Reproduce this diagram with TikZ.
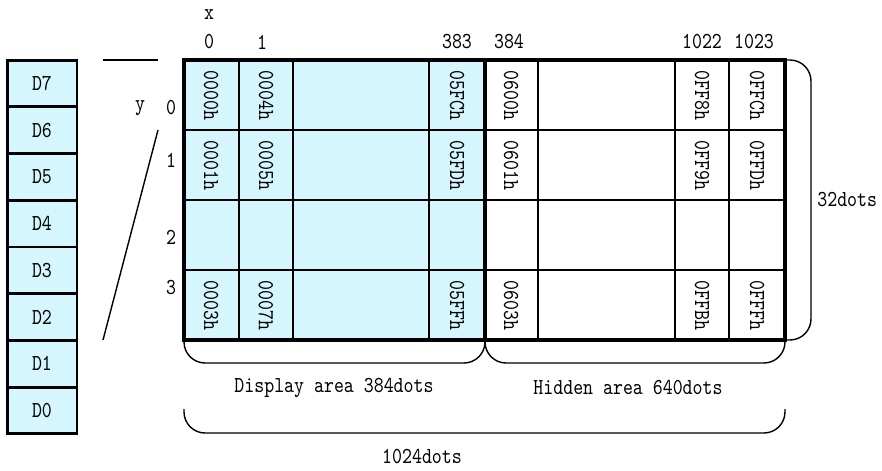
\documentclass[tikz,border=0pt]{standalone}
\usepackage{fontspec}
\newfontfamily\memfont[FakeStretch=0.83]{lmmono10-regular.otf}
\usetikzlibrary{positioning}
\definecolor{memcyan}{RGB}{212,246,252}

\begin{document}
\begin{tikzpicture}[x=0.02cm, y=-0.02cm,
    txt/.style={font=\memfont\fontsize{13}{15}\selectfont, inner sep=0pt},
    bit/.style={txt, draw, line width=1.7pt, fill=memcyan, minimum width=1.4cm,
        minimum height=0.935cm, outer sep=0pt},
    addr/.style={txt, rotate=-90, anchor=west},
    gridline/.style={line width=0.75pt},
    frame/.style={line width=2pt},
    brace/.style={line width=0.8pt, rounded corners=12pt}
]
\useasboundingbox (0,0) rectangle (882,470);

% data bits
\node[bit] (d7) at (42,83.4) {D7};
\node[bit, below=0pt of d7] (d6) {D6};
\node[bit, below=0pt of d6] (d5) {D5};
\node[bit, below=0pt of d5] (d4) {D4};
\node[bit, below=0pt of d4] (d3) {D3};
\node[bit, below=0pt of d3] (d2) {D2};
\node[bit, below=0pt of d2] (d1) {D1};
\node[bit, below=0pt of d1] (d0) {D0};

% memory grid corners
\coordinate (gtl) at (184,60);
\coordinate (gtm) at (485,60);
\coordinate (gtr) at (785,60);
\coordinate (gbl) at (184,340);
\coordinate (gbm) at (485,340);
\coordinate (gbr) at (785,340);

\fill[memcyan] (gtl) rectangle (gbm);
\foreach \cx in {239,293,429,538,675,729}
    \draw[gridline] (\cx,60) -- (\cx,340);
\foreach \ry in {130,200,270}
    \draw[gridline] (184,\ry) -- (785,\ry);
\draw[frame] (gtl) rectangle (gbm);
\draw[frame] (gtm) rectangle (gbr);

% zoom lines
\coordinate (za) at (103,60);
\coordinate (zb) at (158,60);
\coordinate (zc) at (158,130);
\coordinate (zd) at (103,340);
\draw[line width=0.8pt] (za) -- (zb);
\draw[line width=0.8pt] (zc) -- (zd);

% axis labels
\node[txt] (xlab) at (209,15) {x};
\node[txt] (x0) at (209,42) {0};
\node[txt] (x1) at (262,42) {1};
\node[txt] (x383) at (457,42) {383};
\node[txt] (x384) at (509,42) {384};
\node[txt] (x1022) at (702,42) {1022};
\node[txt] (x1023) at (754,42) {1023};
\node[txt] (ylab) at (140,108) {y};
\node[txt] (y0) at (171,108) {0};
\node[txt] (y1) at (171,160) {1};
\node[txt] (y2) at (171,237) {2};
\node[txt] (y3) at (171,288) {3};

% addresses
\node[addr] (a00) at (211,70) {0000h};
\node[addr] (a01) at (211,140) {0001h};
\node[addr] (a03) at (211,280) {0003h};
\node[addr] (a10) at (266,70) {0004h};
\node[addr] (a11) at (266,140) {0005h};
\node[addr] (a13) at (266,280) {0007h};
\node[addr] (a30) at (457,70) {05FCh};
\node[addr] (a31) at (457,140) {05FDh};
\node[addr] (a33) at (457,280) {05FFh};
\node[addr] (a40) at (511,70) {0600h};
\node[addr] (a41) at (511,140) {0601h};
\node[addr] (a43) at (511,280) {0603h};
\node[addr] (a60) at (702,70) {0FF8h};
\node[addr] (a61) at (702,140) {0FF9h};
\node[addr] (a63) at (702,280) {0FFBh};
\node[addr] (a70) at (757,70) {0FFCh};
\node[addr] (a71) at (757,140) {0FFDh};
\node[addr] (a73) at (757,280) {0FFFh};

% braces
\draw[brace] (gbl) |- (334,363) -| (gbm);
\draw[brace] (gbm) |- (635,363) -| (gbr);
\draw[brace] (184,409) |- (484,433) -| (785,409);
\draw[brace] (gtr) -| (811,200) |- (gbr);

\node[txt] (disp) at (334,388) {Display area 384dots};
\node[txt] (hid) at (628,388) {Hidden area 640dots};
\node[txt] (total) at (422,457) {1024dots};
\node[txt, anchor=west] (rows) at (817,200) {32dots};
\end{tikzpicture}
\end{document}
